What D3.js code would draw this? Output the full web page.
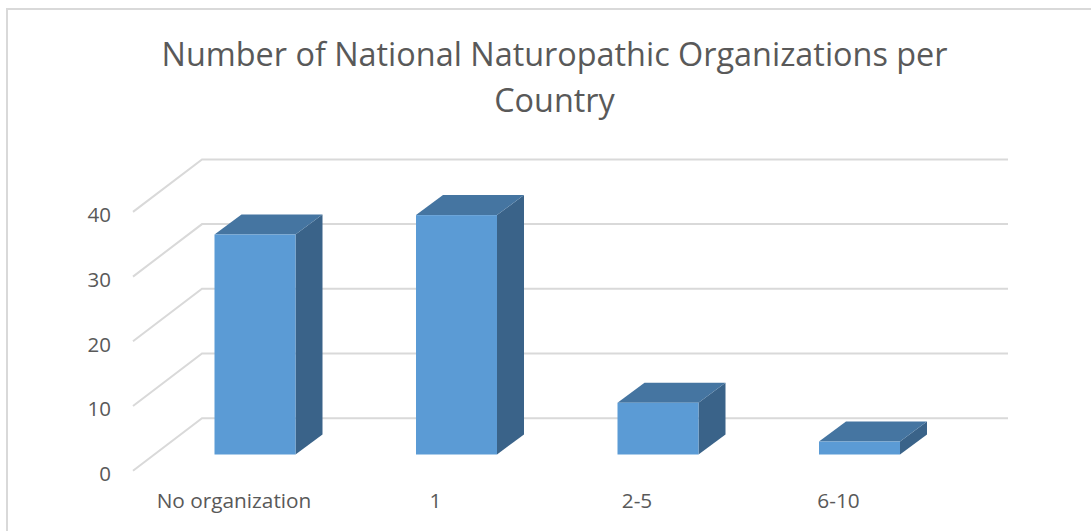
<!DOCTYPE html>
<html>
<head>
<meta charset="utf-8">
<script src="https://cdn.jsdelivr.net/npm/d3@7"></script>
<style>
  html, body { margin: 0; padding: 0; background: #fff; }
  svg { display: block; }
  text { font-family: "Open Sans", sans-serif; fill: #595959; }
</style>
</head>
<body>
<div id="chart"></div>
<script>
// chart values
const categories = ["No organization", "1", "2-5", "6-10"]
const counts = [34, 37, 8, 2]
const yTicks = [0, 10, 20, 30, 40]
const titleLines = ["Number of National Naturopathic Organizations per", "Country"]

const width = 1091,
    height = 531

const svg = d3.select("#chart")
  .append("svg")
    .attr("width", width)
    .attr("height", height)
    .attr("viewBox", `0 0 ${width} ${height}`)

// outer chart frame, only top and left edges are inside the picture
svg.append("rect")
    .attr("x", 7)
    .attr("y", 9)
    .attr("width", 1100)
    .attr("height", 540)
    .attr("fill", "#fff")
    .attr("stroke", "#d9d9d9")
    .attr("stroke-width", 2)

// title
svg.append("g")
  .selectAll("text")
  .data(titleLines)
  .join("text")
    .attr("x", 554.5)
    .attr("y", (d, i) => 66 + i * 46)
    .attr("text-anchor", "middle")
    .attr("font-size", 32.4)
    .text(d => d)

// scales
const x = d3.scaleBand()
    .domain(categories)
    .range([154.25, 960.25])
    .paddingInner(0.598)
    .paddingOuter(0.299)

const y = d3.scaleLinear()
    .domain([0, 40])
    .range([454.5, 195.7])

// fake 3d offsets: floor front edge and back wall relative to bar base
const back = { dy: -36.3 },
    front = { dy: 16.2 },
    wallLeft = 133,
    wallBack = 202,
    wallRight = 1008,
    barDepth = { dx: 27, dy: -20 }

// gridlines: slanted side wall + back wall
const grid = svg.append("g")
    .attr("fill", "none")
    .attr("stroke", "#d9d9d9")
    .attr("stroke-width", 2)

grid.selectAll("path")
  .data(yTicks)
  .join("path")
    .attr("d", d => {
      const p = d3.path()
      p.moveTo(wallLeft, y(d) + front.dy)
      p.lineTo(wallBack, y(d) + back.dy)
      p.lineTo(wallRight, y(d) + back.dy)
      return p.toString()
    })

// y axis labels
svg.append("g")
    .attr("transform", "translate(111,19.5)")
    .call(d3.axisLeft(y).tickValues(yTicks).tickSize(0).tickPadding(0))
    .call(g => g.select(".domain").remove())
    .call(g => g.selectAll("text")
      .attr("font-size", 20.5)
      .attr("font-family", '"Open Sans", sans-serif')
      .attr("fill", "#595959"))

// x axis labels, sit left of the bars in the original
svg.append("g")
    .selectAll("text")
    .data(categories)
    .join("text")
      .attr("x", d => x(d) + x.bandwidth() / 2 - 21)
      .attr("y", 508)
      .attr("text-anchor", "middle")
      .attr("font-size", 20.8)
      .text(d => d)

// bars: right side, top, front
const bars = svg.append("g")
  .selectAll("g")
  .data(categories.map((c, i) => ({ c, v: counts[i] })))
  .join("g")

bars.append("path")
    .attr("fill", "#3a6389")
    .attr("d", d => {
      const r = x(d.c) + x.bandwidth()
      return `M${r},${y(d.v)}L${r + barDepth.dx},${y(d.v) + barDepth.dy}L${r + barDepth.dx},${y(0) + barDepth.dy}L${r},${y(0)}Z`
    })

bars.append("path")
    .attr("fill", "#4575a1")
    .attr("d", d => {
      const l = x(d.c), r = l + x.bandwidth()
      return `M${l},${y(d.v)}L${l + barDepth.dx},${y(d.v) + barDepth.dy}L${r + barDepth.dx},${y(d.v) + barDepth.dy}L${r},${y(d.v)}Z`
    })

bars.append("rect")
    .attr("fill", "#5b9bd5")
    .attr("x", d => x(d.c))
    .attr("y", d => y(d.v))
    .attr("width", x.bandwidth())
    .attr("height", d => y(0) - y(d.v))
</script>
</body>
</html>
